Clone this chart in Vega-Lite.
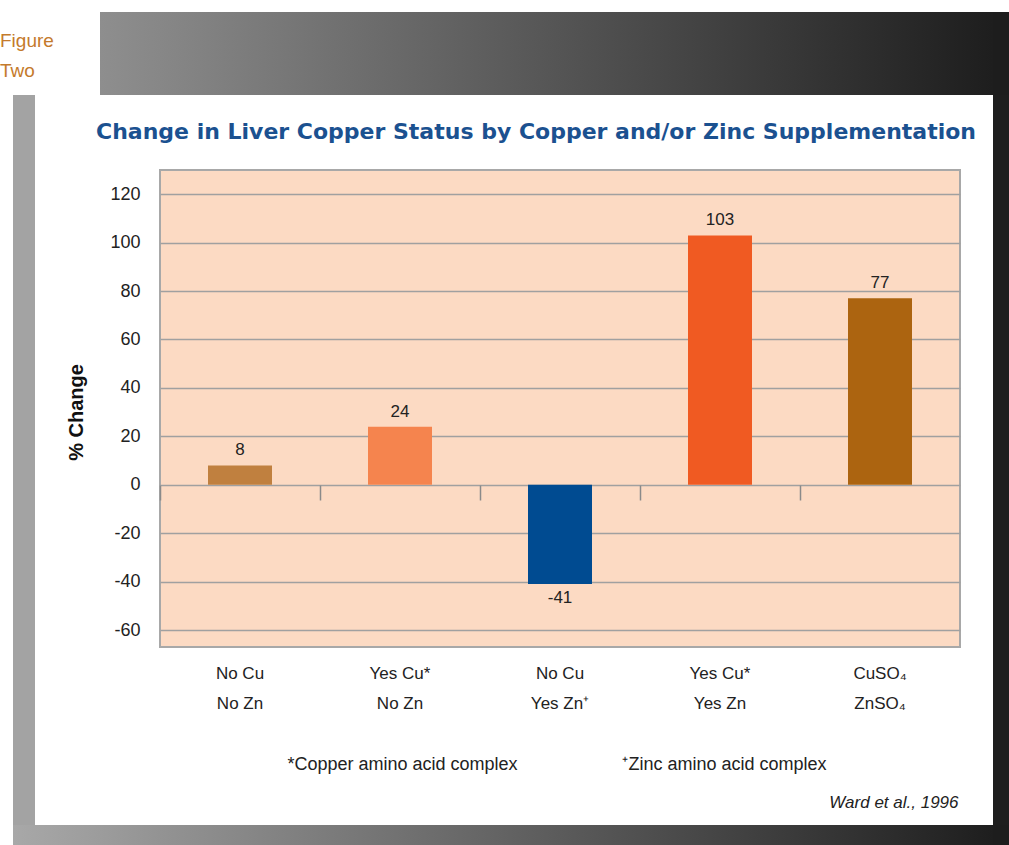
{
  "$schema": "https://vega.github.io/schema/vega-lite/v6.json",
  "padding": {"left": 0, "top": 12, "right": 0, "bottom": 0},
  "background": "white",
  "config": {
    "view": {"stroke": null},
    "font": "Liberation Sans",
    "locale": {"number": {"decimal": ".", "thousands": ",", "grouping": [3], "currency": ["$", ""], "minus": "-"}}
  },
  "datasets": {
    "liver": [
      {"group": "No Cu|No Zn", "pct": 8},
      {"group": "Yes Cu*|No Zn", "pct": 24},
      {"group": "No Cu|Yes Zn⁺", "pct": -41},
      {"group": "Yes Cu*|Yes Zn", "pct": 103},
      {"group": "CuSO₄|ZnSO₄", "pct": 77}
    ],
    "empty": []
  },
  "columns": 7,
  "spacing": 0,
  "bounds": "flush",
  "align": "each",
  "concat": [
    {
      "width": 13, "height": 83, "data": {"name": "empty"}, "mark": "point",
      "title": {
        "text": ["Figure", "Two"],
        "orient": "bottom",
        "anchor": "start",
        "frame": "group",
        "offset": -63,
        "baseline": "top",
        "lineHeight": 30,
        "fontSize": 19,
        "fontWeight": "normal",
        "color": "#c47a2c"
      }
    },
    {"width": 22, "height": 83, "data": {"name": "empty"}, "mark": "point"},
    {"width": 65, "height": 83, "data": {"name": "empty"}, "mark": "point"},
    {"width": 60, "height": 83, "data": {"name": "empty"}, "mark": "point", "view": {"fill": {"gradient": "linear", "x1": 0, "y1": 0, "x2": 1, "y2": 0, "stops": [{"offset": 0, "color": "#8e8e8e"}, {"offset": 1, "color": "#878787"}]}}},
    {"width": 800, "height": 83, "data": {"name": "empty"}, "mark": "point", "view": {"fill": {"gradient": "linear", "x1": 0, "y1": 0, "x2": 1, "y2": 0, "stops": [{"offset": 0, "color": "#878787"}, {"offset": 1, "color": "#222222"}]}}},
    {"width": 33, "height": 83, "data": {"name": "empty"}, "mark": "point", "view": {"fill": {"gradient": "linear", "x1": 0, "y1": 0, "x2": 1, "y2": 0, "stops": [{"offset": 0, "color": "#222222"}, {"offset": 1, "color": "#1e1e1e"}]}}},
    {"width": 16, "height": 83, "data": {"name": "empty"}, "mark": "point", "view": {"fill": "#1d1d1d"}},

    {"width": 13, "height": 75, "data": {"name": "empty"}, "mark": "point"},
    {"width": 22, "height": 75, "data": {"name": "empty"}, "mark": "point", "view": {"fill": "#a3a3a3"}},
    {"width": 65, "height": 75, "data": {"name": "empty"}, "mark": "point"},
    {"width": 60, "height": 75, "data": {"name": "empty"}, "mark": "point"},
    {"width": 800, "height": 75, "data": {"name": "empty"}, "mark": "point"},
    {"width": 33, "height": 75, "data": {"name": "empty"}, "mark": "point"},
    {"width": 16, "height": 75, "data": {"name": "empty"}, "mark": "point", "view": {"fill": "#1e1e1e"}},

    {"width": 13, "height": 477, "data": {"name": "empty"}, "mark": "point"},
    {"width": 22, "height": 477, "data": {"name": "empty"}, "mark": "point", "view": {"fill": "#a3a3a3"}},
    {"width": 65, "height": 477, "data": {"name": "empty"}, "mark": "point"},
    {"width": 60, "height": 477, "data": {"name": "empty"}, "mark": "point"},
    {
      "width": 800,
      "height": 477,
      "data": {"name": "liver"},
      "view": {"fill": "#fcdac3", "stroke": "#a8a8a8", "strokeWidth": 2},
      "title": {
        "text": "Change in Liver Copper Status by Copper and/or Zinc Supplementation",
        "font": "DejaVu Sans",
        "fontWeight": "bold",
        "fontSize": 22,
        "color": "#1b5190",
        "anchor": "middle",
        "frame": "group",
        "dx": -24,
        "offset": 26
      },
      "encoding": {
        "y": {
          "field": "pct",
          "type": "quantitative",
          "scale": {"domain": [-67, 130], "nice": false, "zero": false},
          "axis": {
            "values": [-60, -40, -20, 0, 20, 40, 60, 80, 100, 120],
            "title": "% Change",
            "grid": true,
            "gridColor": "#a0a0a0",
            "gridWidth": 1.5,
            "ticks": false,
            "domain": false,
            "labelPadding": 20,
            "labelFontSize": 18,
            "labelColor": "#222222",
            "titleFont": "Liberation Sans",
            "titleFontWeight": "bold",
            "titleFontSize": 20,
            "titleColor": "#111111",
            "titleX": -84,
            "titleY": 242,
            "titleAngle": -90,
            "titleAlign": "center",
            "titleBaseline": "middle"
          }
        }
      },
      "layer": [
        {
          "mark": {"type": "bar", "width": {"band": 0.4}},
          "encoding": {
            "x": {
              "field": "group",
              "type": "nominal",
              "sort": null,
              "scale": {"paddingInner": 0, "paddingOuter": 0},
              "axis": {
                "orient": "bottom",
                "labelExpr": "split(datum.label, '|')",
                "labelAngle": 0,
                "ticks": false,
                "domain": false,
                "grid": false,
                "labelPadding": 18,
                "labelBaseline": "top",
                "labelLineHeight": 30,
                "labelFontSize": 17,
                "labelColor": "#222222",
                "title": "*Copper amino acid complex",
                "titleFont": "Liberation Sans",
                "titleFontSize": 18,
                "titleFontWeight": "normal",
                "titleColor": "#222222",
                "titleX": 242,
                "titleY": 117,
                "titleAlign": "center",
                "titleBaseline": "middle"
              }
            },
            "color": {
              "field": "group",
              "type": "nominal",
              "scale": {
                "domain": ["No Cu|No Zn", "Yes Cu*|No Zn", "No Cu|Yes Zn⁺", "Yes Cu*|Yes Zn", "CuSO₄|ZnSO₄"],
                "range": ["#c0803f", "#f5844e", "#004b91", "#f05a22", "#ac6410"]
              },
              "legend": null
            }
          }
        },
        {
          "transform": [{"filter": "datum.pct >= 0"}],
          "mark": {"type": "text", "baseline": "bottom", "dy": -6, "fontSize": 17, "color": "#222222"},
          "encoding": {
            "x": {
              "field": "group",
              "type": "nominal",
              "sort": null,
              "axis": {
                "orient": "bottom",
                "labels": false,
                "ticks": false,
                "domain": false,
                "grid": false,
                "title": "Ward et al., 1996",
                "titleFont": "Liberation Sans",
                "titleFontStyle": "italic",
                "titleFontWeight": "normal",
                "titleFontSize": 17,
                "titleColor": "#222222",
                "titleX": 798,
                "titleY": 155,
                "titleAlign": "right",
                "titleBaseline": "middle"
              }
            },
            "text": {"field": "pct", "type": "quantitative"}
          }
        },
        {
          "transform": [{"filter": "datum.pct < 0"}],
          "mark": {"type": "text", "baseline": "top", "dy": 6, "fontSize": 17, "color": "#222222"},
          "encoding": {
            "x": {
              "field": "group",
              "type": "nominal",
              "sort": null,
              "axis": {
                "orient": "bottom",
                "offset": -162,
                "labels": false,
                "ticks": true,
                "tickSize": 15,
                "tickColor": "#8a8a8a",
                "tickWidth": 1.5,
                "bandPosition": 0,
                "domain": false,
                "grid": false,
                "title": "⁺Zinc amino acid complex",
                "titleFont": "Liberation Sans",
                "titleFontSize": 18,
                "titleFontWeight": "normal",
                "titleColor": "#222222",
                "titleX": 564,
                "titleY": 279,
                "titleAlign": "center",
                "titleBaseline": "middle"
              }
            },
            "text": {"field": "pct", "type": "quantitative"}
          }
        }
      ],
      "resolve": {"axis": {"x": "independent"}, "scale": {"x": "shared"}}
    },
    {"width": 33, "height": 477, "data": {"name": "empty"}, "mark": "point"},
    {"width": 16, "height": 477, "data": {"name": "empty"}, "mark": "point", "view": {"fill": "#1e1e1e"}},

    {"width": 13, "height": 178, "data": {"name": "empty"}, "mark": "point"},
    {"width": 22, "height": 178, "data": {"name": "empty"}, "mark": "point", "view": {"fill": "#a3a3a3"}},
    {"width": 65, "height": 178, "data": {"name": "empty"}, "mark": "point"},
    {"width": 60, "height": 178, "data": {"name": "empty"}, "mark": "point"},
    {"width": 800, "height": 178, "data": {"name": "empty"}, "mark": "point"},
    {"width": 33, "height": 178, "data": {"name": "empty"}, "mark": "point"},
    {"width": 16, "height": 178, "data": {"name": "empty"}, "mark": "point", "view": {"fill": "#1e1e1e"}},

    {"width": 13, "height": 20, "data": {"name": "empty"}, "mark": "point"},
    {"width": 22, "height": 20, "data": {"name": "empty"}, "mark": "point", "view": {"fill": {"gradient": "linear", "x1": 0, "y1": 0, "x2": 1, "y2": 0, "stops": [{"offset": 0, "color": "#a8a8a8"}, {"offset": 1, "color": "#a5a5a5"}]}}},
    {"width": 65, "height": 20, "data": {"name": "empty"}, "mark": "point", "view": {"fill": {"gradient": "linear", "x1": 0, "y1": 0, "x2": 1, "y2": 0, "stops": [{"offset": 0, "color": "#a5a5a5"}, {"offset": 1, "color": "#9c9c9c"}]}}},
    {"width": 60, "height": 20, "data": {"name": "empty"}, "mark": "point", "view": {"fill": {"gradient": "linear", "x1": 0, "y1": 0, "x2": 1, "y2": 0, "stops": [{"offset": 0, "color": "#9c9c9c"}, {"offset": 1, "color": "#939393"}]}}},
    {"width": 800, "height": 20, "data": {"name": "empty"}, "mark": "point", "view": {"fill": {"gradient": "linear", "x1": 0, "y1": 0, "x2": 1, "y2": 0, "stops": [{"offset": 0, "color": "#939393"}, {"offset": 1, "color": "#232323"}]}}},
    {"width": 33, "height": 20, "data": {"name": "empty"}, "mark": "point", "view": {"fill": {"gradient": "linear", "x1": 0, "y1": 0, "x2": 1, "y2": 0, "stops": [{"offset": 0, "color": "#232323"}, {"offset": 1, "color": "#1e1e1e"}]}}},
    {"width": 16, "height": 20, "data": {"name": "empty"}, "mark": "point", "view": {"fill": "#1d1d1d"}}
  ]
}
